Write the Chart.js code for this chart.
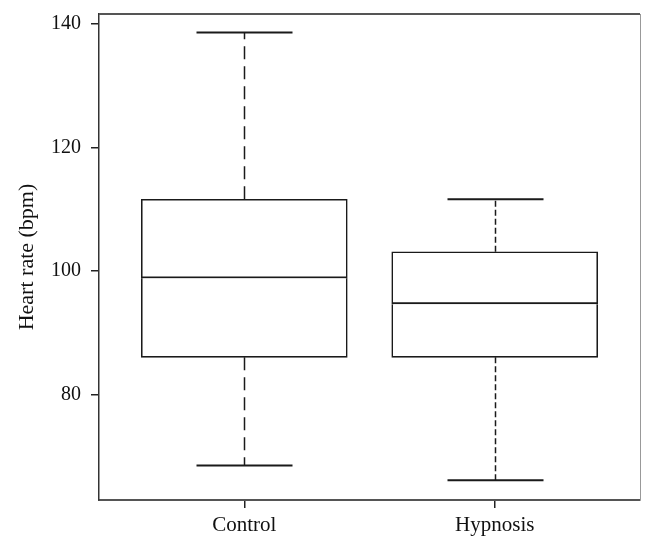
<!DOCTYPE html>
<html>
<head>
<meta charset="utf-8">
<script src="https://cdn.jsdelivr.net/npm/chart.js@4"></script>
<style>
  html, body { margin: 0; padding: 0; background: #fff; }
  #wrap { width: 655px; height: 552px; }
</style>
</head>
<body>
<div id="wrap"><canvas id="box-chart" width="655" height="552"></canvas></div>
<script>
// Heart rate by group (box plot: whiskers, quartiles, median)
const categories = ['Control', 'Hypnosis'];
const whiskerLow = [68.5, 66.1];
const q1 = [86.0, 86.0];
const medians = [98.8, 94.6];
const q3 = [111.6, 103.1];
const whiskerHigh = [138.6, 111.6];
const yTicks = [80, 100, 120, 140];

const SERIF = "'Liberation Serif', 'DejaVu Serif', serif";

// lower half and upper half of each box as floating bars
const lowerBoxes = categories.map((c, i) => ({ x: i + 1, y: [q1[i], medians[i]] }));
const upperBoxes = categories.map((c, i) => ({ x: i + 1, y: [medians[i], q3[i]] }));

// whiskers, caps and the top/right frame lines
const boxExtras = {
    id: 'boxExtras',
    afterDatasetsDraw(chart) {
        const ctx = chart.ctx;
        const xs = chart.scales.x;
        const ys = chart.scales.y;
        const dashes = [[13, 7], [6, 3]];
        const capHalf = 48;
        ctx.save();
        ctx.strokeStyle = '#1a1a1a';
        categories.forEach((c, i) => {
            const x = Math.round(xs.getPixelForValue(i + 1)) + 0.5;
            ctx.lineWidth = 1.5;
            ctx.setLineDash(dashes[i]);
            ctx.beginPath();
            ctx.moveTo(x, ys.getPixelForValue(q3[i]));
            ctx.lineTo(x, ys.getPixelForValue(whiskerHigh[i]));
            ctx.moveTo(x, ys.getPixelForValue(q1[i]));
            ctx.lineTo(x, ys.getPixelForValue(whiskerLow[i]));
            ctx.stroke();
            ctx.setLineDash([]);
            ctx.lineWidth = 2;
            ctx.beginPath();
            [whiskerHigh[i], whiskerLow[i]].forEach(v => {
                const y = ys.getPixelForValue(v);
                ctx.moveTo(x - capHalf, y);
                ctx.lineTo(x + capHalf, y);
            });
            ctx.stroke();
        });
        const a = chart.chartArea;
        ctx.strokeStyle = '#555';
        ctx.lineWidth = 2;
        ctx.beginPath();
        ctx.moveTo(a.left, a.top);
        ctx.lineTo(a.right, a.top);
        ctx.stroke();
        ctx.strokeStyle = '#999';
        ctx.lineWidth = 1;
        ctx.beginPath();
        ctx.moveTo(a.right + 0.5, a.top);
        ctx.lineTo(a.right + 0.5, a.bottom);
        ctx.stroke();
        ctx.restore();
    }
};

const boxCtx = document.getElementById('box-chart').getContext('2d');
// eslint-disable-next-line no-undef, no-unused-vars
const boxChart = new Chart(boxCtx, {
    type: 'bar',
    data: {
        datasets: [
            {
                data: lowerBoxes,
                backgroundColor: '#ffffff',
                borderColor: '#1a1a1a',
                borderWidth: 1.6,
                borderSkipped: 'end',
                barThickness: 206,
                grouped: false
            },
            {
                data: upperBoxes,
                backgroundColor: '#ffffff',
                borderColor: '#1a1a1a',
                borderWidth: { top: 1.6, left: 1.6, right: 1.6, bottom: 2.2 },
                borderSkipped: false,
                barThickness: 206,
                grouped: false
            }
        ]
    },
    options: {
        responsive: false,
        animation: false,
        layout: { padding: { top: 14, right: 15, left: 0, bottom: 0 } },
        plugins: {
            legend: { display: false },
            tooltip: { enabled: false }
        },
        scales: {
            x: {
                type: 'linear',
                offset: false,
                min: 0.42,
                max: 2.58,
                afterBuildTicks: scale => {
                    scale.ticks = categories.map((c, i) => ({ value: i + 1 }));
                },
                afterFit: scale => {
                    scale.height = 52;
                    scale.paddingLeft = 0;
                    scale.paddingRight = 0;
                },
                ticks: {
                    callback: value => categories[value - 1],
                    color: '#111',
                    font: { family: SERIF, size: 21 },
                    padding: 5,
                    maxRotation: 0
                },
                grid: {
                    offset: false,
                    drawOnChartArea: false,
                    drawTicks: true,
                    tickLength: 8,
                    color: '#222',
                    lineWidth: 1.5
                },
                border: { display: true, color: '#555', width: 2 }
            },
            y: {
                min: 62.9,
                max: 141.6,
                afterBuildTicks: scale => {
                    scale.ticks = yTicks.map(v => ({ value: v }));
                },
                afterFit: scale => {
                    scale.width = 99;
                    scale.paddingTop = 0;
                    scale.paddingBottom = 0;
                },
                ticks: {
                    color: '#111',
                    font: { family: SERIF, size: 20 },
                    padding: 10
                },
                grid: {
                    drawOnChartArea: false,
                    drawTicks: true,
                    tickLength: 8,
                    color: '#222',
                    lineWidth: 1.5
                },
                border: { display: true, color: '#333', width: 1.5 },
                title: {
                    display: true,
                    text: 'Heart rate (bpm)',
                    color: '#111',
                    font: { family: SERIF, size: 22 },
                    padding: { top: 14, bottom: 0 }
                }
            }
        }
    },
    plugins: [boxExtras]
});
</script>
</body>
</html>
